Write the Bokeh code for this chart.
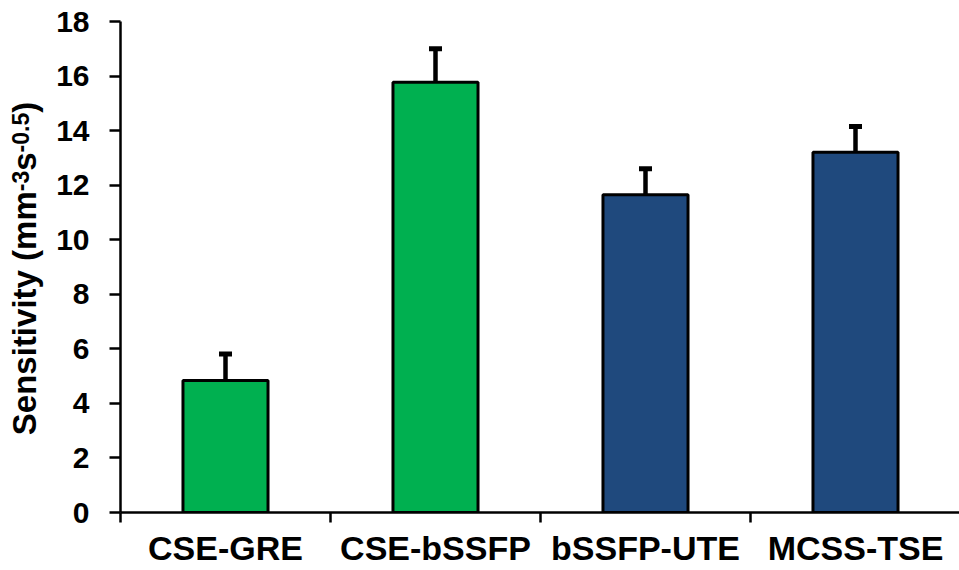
import math
from bokeh.plotting import figure
from bokeh.layouts import row
from bokeh.models import (ColumnDataSource, FixedTicker, Whisker, TeeHead, Label, Range1d)
from bokeh.embed import file_html
from bokeh.resources import INLINE

# ---- data ----
categories = ["CSE-GRE", "CSE-bSSFP", "bSSFP-UTE", "MCSS-TSE"]
sensitivity = [4.84, 15.77, 11.65, 13.21]
sensitivity_err = [0.97, 1.23, 0.95, 0.94]
bar_colors = ["#00B050", "#00B050", "#1F497D", "#1F497D"]
y_ticks = [0, 2, 4, 6, 8, 10, 12, 14, 16, 18]
y_title_parts = ["Sensitivity (mm", "-3", "s", "-0.5", ")"]

FONT = "Liberation Sans"
W, H = 959, 570
TW = 48                      # width of the narrow title strip
FRAME_LEFT, FRAME_TOP, FRAME_BOTTOM = 120, 21, 512

xs = [i + 0.5 for i in range(len(categories))]
src = ColumnDataSource(dict(
    x=xs, top=sensitivity, color=bar_colors,
    upper=[m + e for m, e in zip(sensitivity, sensitivity_err)],
))

p = figure(width=W - TW, height=H, output_backend="svg", toolbar_location=None,
           x_range=Range1d(0, 839 / 210.0), y_range=Range1d(0, 18),
           min_border_left=FRAME_LEFT - TW, min_border_top=FRAME_TOP,
           min_border_bottom=H - FRAME_BOTTOM, min_border_right=0)
p.outline_line_color = None
p.xgrid.grid_line_color = None
p.ygrid.grid_line_color = None
p.background_fill_color = "white"

p.vbar(x="x", top="top", bottom=0, width=0.405, fill_color="color",
       line_color="black", line_width=3, source=src)

wh = Whisker(base="x", lower="top", upper="upper", source=src,
             line_color="black", line_width=4.5,
             lower_head=None,
             upper_head=TeeHead(size=13, line_width=5, line_color="black"))
p.add_layout(wh)

# x axis: labels at category centres, tick marks at category boundaries
xa = p.xaxis[0]
xa.ticker = FixedTicker(ticks=xs, minor_ticks=list(range(len(categories) + 1)))
xa.major_label_overrides = {x: c for x, c in zip(xs, categories)}
xa.major_tick_out = 0
xa.major_tick_in = 0
xa.minor_tick_out = 10
xa.minor_tick_in = 0
xa.minor_tick_line_width = 2.5
xa.minor_tick_line_color = "black"
xa.axis_line_width = 2.5
xa.axis_line_color = "black"
xa.major_label_text_font = FONT
xa.major_label_text_font_style = "bold"
xa.major_label_text_font_size = "34px"
xa.major_label_text_color = "black"
xa.major_label_standoff = 6

ya = p.yaxis[0]
ya.ticker = FixedTicker(ticks=y_ticks, minor_ticks=[])
ya.major_tick_out = 11
ya.major_tick_in = 0
ya.major_tick_line_width = 2.5
ya.major_tick_line_color = "black"
ya.axis_line_width = 2.5
ya.axis_line_color = "black"
ya.major_label_text_font = FONT
ya.major_label_text_font_style = "bold"
ya.major_label_text_font_size = "30px"
ya.major_label_text_color = "black"
ya.major_label_standoff = 20

# ---- y axis title with superscripts, drawn in a narrow strip to the left ----
t = figure(width=TW, height=H, output_backend="svg", toolbar_location=None,
           x_axis_type=None, y_axis_type=None,
           x_range=Range1d(0, TW), y_range=Range1d(0, H),
           min_border_left=0, min_border_right=0,
           min_border_top=FRAME_TOP, min_border_bottom=H - FRAME_BOTTOM)
t.outline_line_color = None
t.xgrid.grid_line_color = None
t.ygrid.grid_line_color = None

big, small = 33, 23
adv = [7391, 889, 556, 1723, 333]          # advance widths (1/1000 em)
sizes = [big, small, big, small, big]
anchor_x = [23.5, 19.5, 23.5, 19.5, 23.5]
total = sum(a * s / 1000.0 for a, s in zip(adv, sizes))
y_img = 268.0 + total / 2.0
for txt, a, s, ax in zip(y_title_parts, adv, sizes, anchor_x):
    t.add_layout(Label(x=ax, y=FRAME_BOTTOM - y_img, x_units="screen", y_units="screen",
                       text=txt, angle=math.pi / 2,
                       text_font=FONT, text_font_style="bold",
                       text_font_size=f"{s}px", text_color="black",
                       text_align="left", text_baseline="alphabetic"))
    y_img -= a * s / 1000.0

layout = row(t, p, spacing=0)
open("out.html", "w").write(file_html(layout, INLINE))
